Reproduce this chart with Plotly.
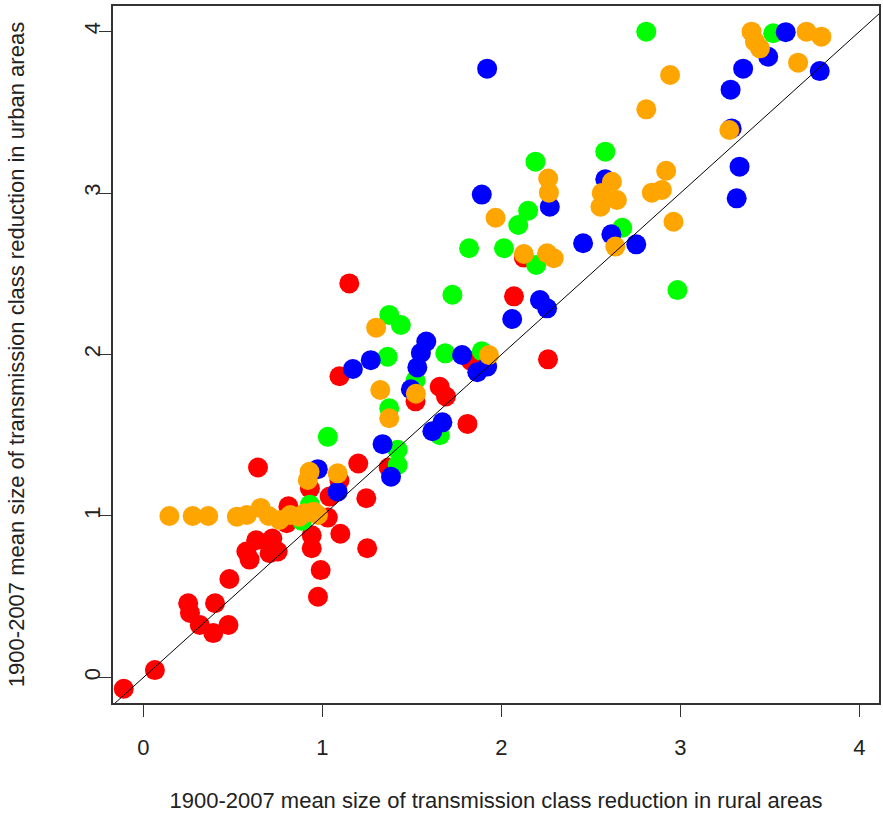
import plotly.graph_objects as go

# ---- data (rural, urban) per group ----
red_x = [-0.11, 0.064, 0.25, 0.26, 0.315, 0.40, 0.39, 0.475, 0.48, 0.575, 0.593, 0.63, 0.72, 0.705, 0.75,
         0.64, 0.81, 0.80, 0.93, 0.94, 0.94, 0.99, 0.975, 1.03, 1.04, 1.095, 1.10, 1.20, 1.245, 1.25,
         1.37, 1.095, 1.15, 1.52, 1.655, 1.69, 1.81, 2.07, 2.26, 2.125, 1.83]
red_y = [-0.07, 0.046, 0.46, 0.40, 0.325, 0.46, 0.275, 0.325, 0.61, 0.78, 0.73, 0.85, 0.86, 0.77, 0.78,
         1.30, 1.06, 0.955, 1.17, 0.88, 0.80, 0.665, 0.50, 0.99, 1.12, 1.22, 0.89, 1.325, 1.11, 0.80,
         1.30, 1.865, 2.44, 1.71, 1.80, 1.74, 1.57, 2.36, 1.97, 2.60, 1.96]

green_x = [0.93, 0.885, 1.03, 1.42, 1.42, 1.373, 1.52, 1.364, 1.373, 1.438, 1.686, 1.89, 1.656, 1.726,
           1.819, 2.014, 2.094, 2.149, 2.19, 2.194, 2.58, 2.675, 2.983, 2.809, 3.518]
green_y = [1.07, 0.97, 1.49, 1.41, 1.316, 1.667, 1.84, 1.986, 2.245, 2.183, 2.007, 2.02, 1.50, 2.37,
           2.658, 2.658, 2.802, 2.89, 3.194, 2.554, 3.256, 2.785, 2.399, 3.999, 3.989]

blue_x = [0.974, 1.085, 1.336, 1.383, 1.17, 1.27, 1.58, 1.55, 1.53, 1.494, 1.78, 1.865, 1.92, 1.614,
          1.67, 1.89, 1.92, 2.06, 2.215, 2.255, 2.27, 2.456, 2.58, 2.614, 2.753, 3.28, 3.286, 3.314,
          3.33, 3.35, 3.49, 3.588, 3.778]
blue_y = [1.29, 1.15, 1.445, 1.243, 1.91, 1.965, 2.08, 2.01, 1.92, 1.785, 1.997, 1.89, 1.925, 1.525,
          1.58, 2.99, 3.77, 2.22, 2.337, 2.286, 2.915, 2.689, 3.085, 2.744, 2.682, 3.64, 3.40, 2.967,
          3.163, 3.77, 3.844, 3.996, 3.755]

orange_x = [0.145, 0.275, 0.362, 0.522, 0.578, 0.655, 0.70, 0.76, 0.82, 0.87, 0.90, 0.95, 0.975,
            0.928, 0.918, 1.085, 1.30, 1.323, 1.373, 1.522, 1.93, 1.967, 2.125, 2.255, 2.292, 2.261,
            2.265, 2.617, 2.56, 2.645, 2.553, 2.636, 2.84, 2.896, 2.92, 2.961, 2.942, 2.809, 3.273,
            3.397, 3.416, 3.444, 3.704, 3.787, 3.657]
orange_y = [1.0, 1.0, 1.0, 0.996, 1.006, 1.05, 1.0, 0.975, 1.006, 0.996, 1.017, 1.027, 1.006,
            1.274, 1.223, 1.264, 2.166, 1.78, 1.605, 1.757, 1.997, 2.847, 2.622, 2.627, 2.596, 3.09,
            3.002, 3.07, 3.0, 2.957, 2.915, 2.668, 3.002, 3.019, 3.138, 2.822, 3.731, 3.518, 3.39,
            3.999, 3.937, 3.896, 3.999, 3.968, 3.807]

ref_line = [-1, 5]  # y = x reference
tick_vals = [0, 1, 2, 3, 4]
tick_text = ["0", "1", "2", "3", "4"]

x_title = "1900-2007 mean size of transmission class reduction in rural areas"
y_title = "1900-2007 mean size of transmission class reduction in urban areas"

fig = go.Figure()
groups = [
    (red_x, red_y, "#ff0000"),
    (green_x, green_y, "#00ff00"),
    (blue_x, blue_y, "#0000ff"),
    (orange_x, orange_y, "#ffa500"),
]
for gx, gy, col in groups:
    fig.add_trace(go.Scatter(x=gx, y=gy, mode="markers",
                             marker=dict(color=col, size=20, line=dict(width=0)),
                             showlegend=False, hoverinfo="skip"))
fig.add_trace(go.Scatter(x=ref_line, y=ref_line, mode="lines",
                         line=dict(color="black", width=1), showlegend=False, hoverinfo="skip"))

font = dict(family="Liberation Sans, Arial, sans-serif", size=22, color="#222222")
fig.update_layout(
    width=883, height=816,
    margin=dict(l=113, r=2, t=6, b=113),
    paper_bgcolor="white", plot_bgcolor="white",
    font=font,
)
fig.update_xaxes(range=[-0.17, 4.109], tickvals=tick_vals, ticktext=tick_text,
                 showgrid=False, zeroline=False, showline=True, linecolor="#333333", linewidth=1.5,
                 mirror=True, ticks="outside", ticklen=12, tickcolor="#333333",
                 ticklabelstandoff=12,
                 title=dict(text=x_title, standoff=33, font=font))
fig.update_yaxes(range=[-0.158, 4.158], tickvals=tick_vals, ticktext=tick_text,
                 showgrid=False, zeroline=False, showline=True, linecolor="#333333", linewidth=1.5,
                 mirror=True, ticks="outside", ticklen=12, tickcolor="#333333", tickangle=-90,
                 ticklabelstandoff=-10,
                 title=dict(text=y_title, standoff=50, font=font))

fig.write_html("out.html", config={"displayModeBar": False},
               post_script="document.body.style.margin='0px';document.body.style.overflow='hidden';")
